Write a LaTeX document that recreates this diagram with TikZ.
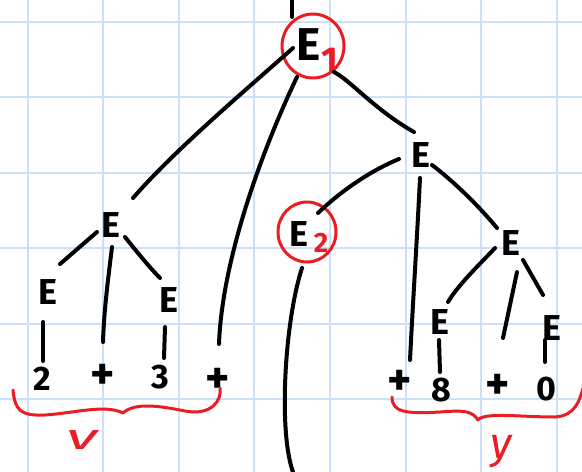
\documentclass[tikz,border=0pt]{standalone}
\usepackage{fontspec}
\setmainfont{Fira Sans}
\usetikzlibrary{calc}
\definecolor{gridblue}{RGB}{204,224,250}
\definecolor{penred}{RGB}{234,28,36}
\begin{document}
\begin{tikzpicture}[x=1pt,y=-1pt,
  ink/.style={line width=4pt,line cap=round,line join=round,black},
  redink/.style={line width=3pt,line cap=round,line join=round,penred},
  sym/.style={inner sep=0pt,font=\bfseries\fontsize{36}{36}\selectfont},
  bigsym/.style={inner sep=0pt,font=\bfseries\fontsize{46}{46}\selectfont},
  dig/.style={inner sep=0pt,font=\bfseries\fontsize{34}{34}\selectfont},
  plus/.style={inner sep=0pt,font=\bfseries\fontsize{46}{46}\selectfont},
  sub/.style={inner sep=0pt,text=penred,font=\bfseries\fontsize{28}{28}\selectfont},
  redletter/.style={inner sep=0pt,text=penred,font=\itshape\fontsize{36}{36}\selectfont},
  gridline/.style={line width=2pt,gridblue}]
\useasboundingbox (0,0) rectangle (582,472);
\fill[white] (0,0) rectangle (582,472);
% grid paper
\foreach \gx in {27.5,103.1,178.7,254.3,329.9,405.5,481.1,556.7}
  \draw[gridline] (\gx,0) -- (\gx,472);
\foreach \gy in {22,97.4,172.8,248.2,323.6,399}
  \draw[gridline] (0,\gy) -- (582,\gy);
% nodes
\node[bigsym] (e1) at (309,45) {E};
\node[sub,font=\bfseries\fontsize{36}{36}\selectfont] (s1) at (330,60) {1};
\node[sym] (eL) at (111,225) {E};
\node[sym] (eR) at (421,155) {E};
\node[sym] (e2) at (299,234) {E};
\node[sub] (s2) at (321,243) {2};
\node[sym] (eLL) at (48,292) {E};
\node[sym] (eLR) at (169,300) {E};
\node[sym] (eRR) at (511,243) {E};
\node[sym] (eRRL) at (440,322) {E};
\node[sym] (eRRR) at (552,328) {E};
\node[dig] (n2) at (42,379) {2};
\node[plus] (p1) at (103,377) {+};
\node[dig] (n3) at (160,377) {3};
\node[plus] (p2) at (218,381) {+};
\node[plus] (p3) at (400,383) {+};
\node[dig] (n8) at (441,390) {8};
\node[plus] (p4) at (498,387) {+};
\node[dig] (n0) at (546,389) {0};
\node[redletter] (v) at (82,440) {\scalebox{1.8}[1]{v}};
\node[redletter,font=\itshape\fontsize{44}{44}\selectfont] (y) at (501,452) {y};
\coordinate (top) at (292,0);
\coordinate (bot) at (293,472);
% red circles
\draw[redink] ($(e1)+(4,1)$) ellipse [x radius=31, y radius=32];
\draw[redink] ($(e2)+(8,-2)$) ellipse [x radius=29, y radius=30];
% connectors
\draw[ink] (top) -- ($(e1)+(-17,-28)$);
\draw[ink] ($(e1)+(-16,3)$) .. controls (240,95) and (175,150) .. ($(eL)+(22,-27)$);
\draw[ink] ($(e1)+(-12,32)$) .. controls (262,150) and (222,260) .. ($(p2)+(1,-37)$);
\draw[ink] ($(e1)+(25,27)$) .. controls (350,80) and (375,110) .. ($(eR)+(-7,-23)$);
\draw[ink] ($(eR)+(-22,4)$) .. controls (372,170) and (342,190) .. ($(e2)+(19,-21)$);
\draw[ink] ($(eR)+(-1,23)$) .. controls (417,240) and (413,300) .. ($(p3)+(10,-23)$);
\draw[ink] ($(eR)+(11,10)$) .. controls (452,180) and (478,205) .. ($(eRR)+(-14,-15)$);
\draw[ink] ($(e2)+(3,34)$) .. controls (285,320) and (278,430) .. (bot);
\draw[ink] ($(eL)+(-14,7)$) -- ($(eLL)+(12,-28)$);
\draw[ink] ($(eL)+(1,22)$) .. controls (108,280) and (104,310) .. ($(p1)+(0,-35)$);
\draw[ink] ($(eL)+(14,12)$) .. controls (137,252) and (150,268) .. ($(eLR)+(-9,-22)$);
\draw[ink] ($(eLL)+(-5,30)$) -- ($(n2)+(1,-18)$);
\draw[ink] ($(eLR)+(-4,27)$) -- ($(n3)+(4,-19)$);
\draw[ink] ($(eRR)+(-16,5)$) .. controls (480,264) and (458,285) .. ($(eRRL)+(8,-20)$);
\draw[ink] ($(eRR)+(6,29)$) -- ($(p4)+(5,-49)$);
\draw[ink] ($(eRR)+(12,17)$) -- ($(eRRR)+(-9,-33)$);
\draw[ink] ($(eRRL)+(-1,18)$) -- ($(n8)+(-1,-18)$);
\draw[ink] ($(eRRR)+(-7,12)$) -- ($(n0)+(-1,-27)$);
% braces
\draw[redink] ($(n2)+(-29,11)$) .. controls (15,410) and (20,416) .. (45,415)
  .. controls (75,413) and (105,404) .. (123,413)
  .. controls (135,402) and (160,406) .. (185,411)
  .. controls (212,416) and (222,400) .. ($(p2)+(2,7)$);
\draw[redink] ($(p3)+(-8,14)$) .. controls (392,412) and (405,414) .. (440,412)
  .. controls (465,410) and (472,411) .. (478,420)
  .. controls (484,412) and (520,417) .. (555,417)
  .. controls (575,416) and (580,400) .. (583,388);
\end{tikzpicture}
\end{document}
